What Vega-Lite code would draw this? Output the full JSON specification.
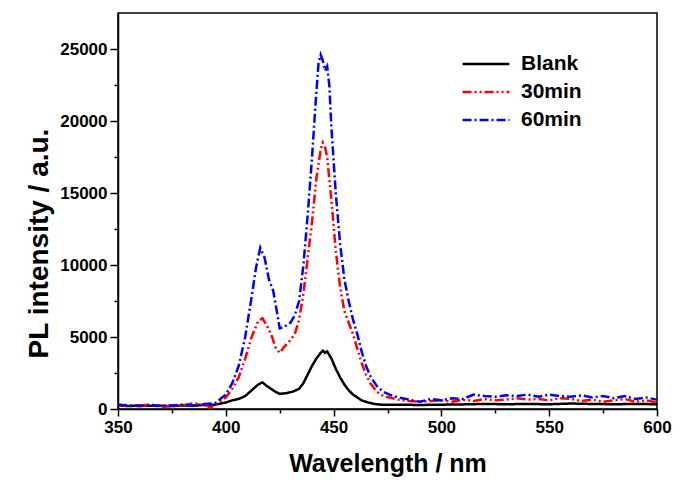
{
  "$schema": "https://vega.github.io/schema/vega-lite/v6.json",
  "width": 539,
  "height": 396,
  "autosize": {"type": "none"},
  "padding": {"left": 118, "top": 13, "right": 33, "bottom": 83},
  "background": "white",
  "config": {
    "view": {"stroke": "black", "strokeWidth": 1.5},
    "axis": {
      "domainColor": "black", "domainWidth": 1.5, "tickColor": "black", "tickWidth": 1.5,
      "labelFont": "Liberation Sans", "labelFontWeight": "bold", "labelFontSize": 17, "labelColor": "black", "labelFlush": false,
      "titleFont": "Liberation Sans", "titleFontWeight": "bold", "titleColor": "black", "grid": false
    },
    "legend": {
      "orient": "none", "legendX": 355, "legendY": 38,
      "symbolType": "M-2,0H2", "symbolSize": 550, "symbolStrokeWidth": 2.5, "symbolFillColor": "transparent",
      "labelFont": "Liberation Sans", "labelFontWeight": "bold", "labelFontSize": 21, "labelColor": "black",
      "labelOffset": 22, "rowPadding": 5
    }
  },
  "data": {"values": [
    {"w":350,"v":250,"s":"Blank"},{"w":355,"v":200,"s":"Blank"},{"w":360,"v":250,"s":"Blank"},{"w":365,"v":220,"s":"Blank"},{"w":370,"v":230,"s":"Blank"},{"w":375,"v":200,"s":"Blank"},{"w":380,"v":250,"s":"Blank"},{"w":385,"v":230,"s":"Blank"},{"w":390,"v":280,"s":"Blank"},{"w":395,"v":300,"s":"Blank"},{"w":400,"v":450,"s":"Blank"},{"w":403,"v":600,"s":"Blank"},{"w":406,"v":700,"s":"Blank"},{"w":409,"v":900,"s":"Blank"},{"w":412,"v":1300,"s":"Blank"},{"w":415,"v":1700,"s":"Blank"},{"w":417,"v":1850,"s":"Blank"},{"w":419,"v":1600,"s":"Blank"},{"w":421,"v":1400,"s":"Blank"},{"w":423,"v":1200,"s":"Blank"},{"w":425,"v":1050,"s":"Blank"},{"w":428,"v":1100,"s":"Blank"},{"w":431,"v":1200,"s":"Blank"},{"w":434,"v":1400,"s":"Blank"},{"w":436,"v":1800,"s":"Blank"},{"w":438,"v":2400,"s":"Blank"},{"w":440,"v":3000,"s":"Blank"},{"w":442,"v":3500,"s":"Blank"},{"w":444,"v":3900,"s":"Blank"},{"w":445,"v":4050,"s":"Blank"},{"w":446,"v":3900,"s":"Blank"},{"w":447,"v":4000,"s":"Blank"},{"w":449,"v":3500,"s":"Blank"},{"w":451,"v":2800,"s":"Blank"},{"w":453,"v":2200,"s":"Blank"},{"w":455,"v":1700,"s":"Blank"},{"w":457,"v":1300,"s":"Blank"},{"w":459,"v":1000,"s":"Blank"},{"w":461,"v":800,"s":"Blank"},{"w":463,"v":600,"s":"Blank"},{"w":466,"v":450,"s":"Blank"},{"w":469,"v":350,"s":"Blank"},{"w":472,"v":300,"s":"Blank"},{"w":475,"v":300,"s":"Blank"},{"w":480,"v":300,"s":"Blank"},{"w":490,"v":280,"s":"Blank"},{"w":500,"v":300,"s":"Blank"},{"w":510,"v":320,"s":"Blank"},{"w":520,"v":350,"s":"Blank"},{"w":530,"v":330,"s":"Blank"},{"w":540,"v":350,"s":"Blank"},{"w":550,"v":330,"s":"Blank"},{"w":560,"v":380,"s":"Blank"},{"w":570,"v":350,"s":"Blank"},{"w":580,"v":330,"s":"Blank"},{"w":590,"v":350,"s":"Blank"},{"w":600,"v":330,"s":"Blank"},
    {"w":350,"v":300,"s":"30min"},{"w":355,"v":200,"s":"30min"},{"w":360,"v":250,"s":"30min"},{"w":365,"v":300,"s":"30min"},{"w":370,"v":150,"s":"30min"},{"w":375,"v":200,"s":"30min"},{"w":380,"v":250,"s":"30min"},{"w":385,"v":400,"s":"30min"},{"w":390,"v":300,"s":"30min"},{"w":393,"v":100,"s":"30min"},{"w":396,"v":400,"s":"30min"},{"w":400,"v":800,"s":"30min"},{"w":403,"v":1400,"s":"30min"},{"w":406,"v":2200,"s":"30min"},{"w":409,"v":3500,"s":"30min"},{"w":412,"v":5000,"s":"30min"},{"w":415,"v":6100,"s":"30min"},{"w":417,"v":6300,"s":"30min"},{"w":419,"v":5800,"s":"30min"},{"w":421,"v":5200,"s":"30min"},{"w":423,"v":4300,"s":"30min"},{"w":425,"v":3900,"s":"30min"},{"w":427,"v":4300,"s":"30min"},{"w":430,"v":4800,"s":"30min"},{"w":432,"v":5200,"s":"30min"},{"w":434,"v":6200,"s":"30min"},{"w":436,"v":8000,"s":"30min"},{"w":438,"v":10500,"s":"30min"},{"w":440,"v":13000,"s":"30min"},{"w":442,"v":16000,"s":"30min"},{"w":444,"v":18000,"s":"30min"},{"w":445,"v":18500,"s":"30min"},{"w":446,"v":18200,"s":"30min"},{"w":447,"v":17500,"s":"30min"},{"w":449,"v":14500,"s":"30min"},{"w":451,"v":11000,"s":"30min"},{"w":453,"v":8500,"s":"30min"},{"w":455,"v":6800,"s":"30min"},{"w":457,"v":6000,"s":"30min"},{"w":459,"v":5200,"s":"30min"},{"w":461,"v":4200,"s":"30min"},{"w":463,"v":3200,"s":"30min"},{"w":465,"v":2400,"s":"30min"},{"w":467,"v":1800,"s":"30min"},{"w":470,"v":1200,"s":"30min"},{"w":473,"v":900,"s":"30min"},{"w":476,"v":800,"s":"30min"},{"w":480,"v":650,"s":"30min"},{"w":485,"v":550,"s":"30min"},{"w":490,"v":500,"s":"30min"},{"w":495,"v":550,"s":"30min"},{"w":500,"v":600,"s":"30min"},{"w":505,"v":500,"s":"30min"},{"w":510,"v":650,"s":"30min"},{"w":515,"v":550,"s":"30min"},{"w":520,"v":700,"s":"30min"},{"w":525,"v":600,"s":"30min"},{"w":530,"v":650,"s":"30min"},{"w":535,"v":750,"s":"30min"},{"w":540,"v":650,"s":"30min"},{"w":545,"v":700,"s":"30min"},{"w":550,"v":600,"s":"30min"},{"w":555,"v":750,"s":"30min"},{"w":560,"v":700,"s":"30min"},{"w":565,"v":550,"s":"30min"},{"w":570,"v":650,"s":"30min"},{"w":575,"v":500,"s":"30min"},{"w":580,"v":600,"s":"30min"},{"w":585,"v":700,"s":"30min"},{"w":590,"v":500,"s":"30min"},{"w":595,"v":600,"s":"30min"},{"w":600,"v":450,"s":"30min"},
    {"w":350,"v":300,"s":"60min"},{"w":355,"v":250,"s":"60min"},{"w":360,"v":200,"s":"60min"},{"w":365,"v":300,"s":"60min"},{"w":370,"v":200,"s":"60min"},{"w":375,"v":250,"s":"60min"},{"w":380,"v":300,"s":"60min"},{"w":385,"v":250,"s":"60min"},{"w":390,"v":350,"s":"60min"},{"w":395,"v":400,"s":"60min"},{"w":400,"v":1000,"s":"60min"},{"w":403,"v":1800,"s":"60min"},{"w":406,"v":3000,"s":"60min"},{"w":409,"v":5000,"s":"60min"},{"w":412,"v":7800,"s":"60min"},{"w":414,"v":9800,"s":"60min"},{"w":416,"v":11200,"s":"60min"},{"w":418,"v":10500,"s":"60min"},{"w":420,"v":9000,"s":"60min"},{"w":422,"v":8200,"s":"60min"},{"w":424,"v":6500,"s":"60min"},{"w":425,"v":5600,"s":"60min"},{"w":427,"v":5700,"s":"60min"},{"w":430,"v":6000,"s":"60min"},{"w":432,"v":6500,"s":"60min"},{"w":434,"v":7500,"s":"60min"},{"w":436,"v":10000,"s":"60min"},{"w":438,"v":13500,"s":"60min"},{"w":440,"v":17500,"s":"60min"},{"w":442,"v":22000,"s":"60min"},{"w":443,"v":24000,"s":"60min"},{"w":444,"v":24600,"s":"60min"},{"w":445,"v":24200,"s":"60min"},{"w":446,"v":23500,"s":"60min"},{"w":447,"v":23800,"s":"60min"},{"w":448,"v":22500,"s":"60min"},{"w":449,"v":19500,"s":"60min"},{"w":451,"v":15000,"s":"60min"},{"w":453,"v":11500,"s":"60min"},{"w":455,"v":9000,"s":"60min"},{"w":457,"v":7500,"s":"60min"},{"w":459,"v":6200,"s":"60min"},{"w":461,"v":5200,"s":"60min"},{"w":463,"v":4000,"s":"60min"},{"w":465,"v":3000,"s":"60min"},{"w":467,"v":2300,"s":"60min"},{"w":470,"v":1600,"s":"60min"},{"w":473,"v":1200,"s":"60min"},{"w":476,"v":1000,"s":"60min"},{"w":480,"v":800,"s":"60min"},{"w":485,"v":650,"s":"60min"},{"w":490,"v":500,"s":"60min"},{"w":495,"v":700,"s":"60min"},{"w":500,"v":600,"s":"60min"},{"w":505,"v":750,"s":"60min"},{"w":510,"v":700,"s":"60min"},{"w":515,"v":1000,"s":"60min"},{"w":520,"v":900,"s":"60min"},{"w":525,"v":850,"s":"60min"},{"w":530,"v":950,"s":"60min"},{"w":535,"v":900,"s":"60min"},{"w":540,"v":1000,"s":"60min"},{"w":545,"v":850,"s":"60min"},{"w":550,"v":1000,"s":"60min"},{"w":555,"v":900,"s":"60min"},{"w":560,"v":850,"s":"60min"},{"w":565,"v":950,"s":"60min"},{"w":570,"v":800,"s":"60min"},{"w":575,"v":900,"s":"60min"},{"w":580,"v":750,"s":"60min"},{"w":585,"v":900,"s":"60min"},{"w":590,"v":700,"s":"60min"},{"w":595,"v":800,"s":"60min"},{"w":600,"v":650,"s":"60min"}
  ]},
  "resolve": {"axis": {"x": "independent", "y": "independent"}},
  "layer": [
    {
      "mark": {"type": "line", "strokeOpacity": 0},
      "encoding": {
        "x": {"field": "w", "type": "quantitative", "scale": {"domain": [350, 600], "nice": false, "zero": false},
              "axis": {"orient": "bottom", "values": [375, 425, 475, 525, 575], "labels": false, "tickSize": 4, "domain": false, "title": null}},
        "y": {"field": "v", "type": "quantitative", "scale": {"domain": [0, 27500], "nice": false},
              "axis": {"orient": "left", "values": [2500, 7500, 12500, 17500, 22500], "labels": false, "tickSize": 4, "domain": false, "title": null}},
        "detail": {"field": "s"}
      }
    },
    {
      "mark": {"type": "line", "strokeWidth": 2.5},
      "encoding": {
        "x": {"field": "w", "type": "quantitative",
              "axis": {"orient": "bottom", "values": [350, 400, 450, 500, 550, 600], "format": "d", "tickSize": 7, "labelPadding": 3,
                       "title": "Wavelength / nm", "titleFontSize": 25, "titlePadding": 16}},
        "y": {"field": "v", "type": "quantitative",
              "axis": {"orient": "left", "values": [0, 5000, 10000, 15000, 20000, 25000], "format": "d", "tickSize": 8, "labelPadding": 3,
                       "title": "PL intensity / a.u.", "titleFontSize": 28, "titlePadding": 6, "titleY": 230}},
        "color": {"field": "s", "type": "nominal", "title": null,
                  "scale": {"domain": ["Blank", "30min", "60min"], "range": ["#000000", "#ff0000", "#0000ff"]}},
        "strokeDash": {"field": "s", "type": "nominal", "title": null,
                  "scale": {"domain": ["Blank", "30min", "60min"], "range": [[1, 0], [9, 3, 2, 3, 2, 3], [9, 3, 2, 3]]}}
      }
    }
  ]
}
